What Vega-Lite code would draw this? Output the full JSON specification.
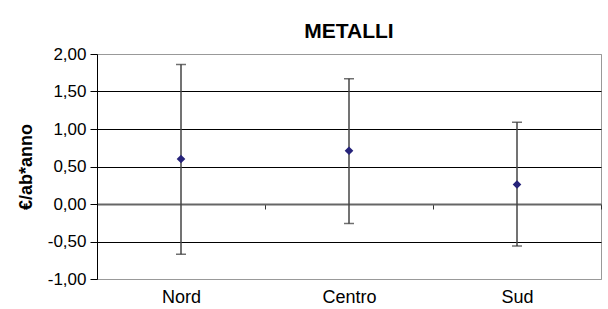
{
  "$schema": "https://vega.github.io/schema/vega-lite/v6.json",
  "width": 504,
  "height": 225,
  "autosize": {"type": "none"},
  "padding": {"left": 97, "top": 54, "right": 7, "bottom": 30},
  "background": "white",
  "config": {
    "locale": {"number": {"decimal": ",", "thousands": ".", "grouping": [3], "currency": ["€", ""], "minus": "-"}},
    "view": {"stroke": "#999999", "strokeWidth": 1},
    "font": "Liberation Sans",
    "axisY": {
      "titleFont": "Liberation Sans",
      "titleFontSize": 18,
      "titleFontWeight": "bold",
      "titleColor": "#000000",
      "titlePadding": 12,
      "labelOverlap": false,
      "labelFont": "Liberation Sans",
      "labelFontSize": 17,
      "labelColor": "#000000",
      "labelPadding": 4,
      "tickColor": "#000000",
      "tickSize": 7,
      "domainColor": "#000000",
      "domainWidth": 1,
      "grid": true,
      "gridColor": {
        "condition": {"test": "datum.value == 0 || datum.value == 2 || datum.value == -1", "value": "#999999"},
        "value": "#000000"
      },
      "gridOpacity": 1,
      "gridWidth": 1
    }
  },
  "title": {
    "text": "METALLI",
    "font": "Liberation Sans",
    "fontSize": 21,
    "fontWeight": "bold",
    "color": "#000000",
    "anchor": "middle",
    "baseline": "alphabetic",
    "offset": -14
  },
  "data": {
    "values": [
      {"area": "Nord", "media": 0.60, "min": -0.67, "max": 1.86},
      {"area": "Centro", "media": 0.71, "min": -0.26, "max": 1.67},
      {"area": "Sud", "media": 0.26, "min": -0.56, "max": 1.09}
    ]
  },
  "encoding": {
    "x": {
      "field": "area",
      "type": "nominal",
      "sort": ["Nord", "Centro", "Sud"],
      "scale": {"paddingInner": 0, "paddingOuter": 0},
      "axis": {
        "title": null,
        "offset": -75,
        "domainColor": "#666666",
        "domainWidth": 2,
        "tickColor": "#333333",
        "tickSize": 5,
        "tickWidth": 1,
        "tickBand": "extent",
        "labelAngle": 0,
        "labelFont": "Liberation Sans",
        "labelFontSize": 18,
        "labelColor": "#000000",
        "labelPadding": 79,
        "grid": false
      }
    }
  },
  "layer": [
    {
      "mark": {"type": "rule", "color": "#444444", "strokeWidth": 1.5},
      "encoding": {
        "y": {
          "field": "min",
          "type": "quantitative",
          "scale": {"domain": [-1, 2], "nice": false, "zero": false},
          "axis": {"title": "€/ab*anno", "values": [-1, -0.5, 0, 0.5, 1, 1.5, 2], "format": ".2f"}
        },
        "y2": {"field": "max"}
      }
    },
    {
      "mark": {"type": "tick", "color": "#333333", "size": 10, "thickness": 1.5, "orient": "horizontal"},
      "encoding": {"y": {"field": "min", "type": "quantitative", "axis": {"title": "€/ab*anno", "values": [-1, -0.5, 0, 0.5, 1, 1.5, 2], "format": ".2f"}}}
    },
    {
      "mark": {"type": "tick", "color": "#333333", "size": 10, "thickness": 1.5, "orient": "horizontal"},
      "encoding": {"y": {"field": "max", "type": "quantitative", "axis": {"title": "€/ab*anno", "values": [-1, -0.5, 0, 0.5, 1, 1.5, 2], "format": ".2f"}}}
    },
    {
      "mark": {"type": "point", "shape": "diamond", "filled": true, "color": "#26237A", "size": 75, "opacity": 1},
      "encoding": {"y": {"field": "media", "type": "quantitative", "axis": {"title": "€/ab*anno", "values": [-1, -0.5, 0, 0.5, 1, 1.5, 2], "format": ".2f"}}}
    }
  ]
}
